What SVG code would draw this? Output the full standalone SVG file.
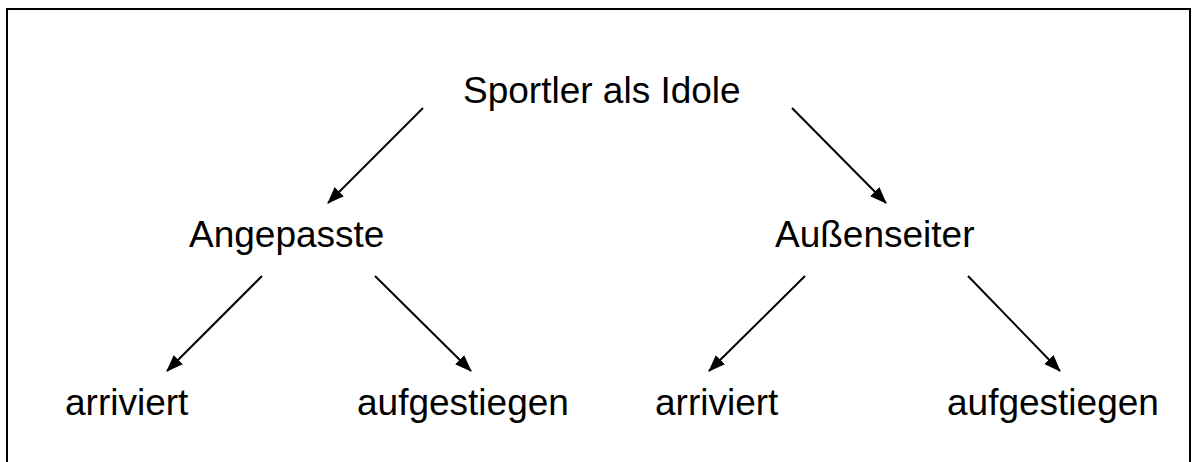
<svg xmlns="http://www.w3.org/2000/svg" width="1192" height="462" viewBox="0 0 1192 462">
<style>
.t{font-family:"Liberation Sans",Arial,sans-serif;font-size:37px;fill:#000}
.c line{stroke:#000;stroke-width:2;fill:none}
</style>
<defs>
<marker id="ah" markerUnits="userSpaceOnUse" markerWidth="18" markerHeight="14" refX="16" refY="6.5" orient="auto">
<path d="M0,0 L17,6.5 L0,13 z" fill="#000"/>
</marker>
</defs>
<rect x="7" y="9" width="1183" height="470" fill="#fff" stroke="#000" stroke-width="2"/>
<g id="n-root"><text class="t" x="463" y="103">Sportler als Idole</text></g>
<g id="n-angepasste"><text class="t" x="189" y="247">Angepasste</text></g>
<g id="n-aussenseiter"><text class="t" x="775" y="247">Außenseiter</text></g>
<g id="n-arriviert1"><text class="t" x="65" y="415">arriviert</text></g>
<g id="n-aufgestiegen1"><text class="t" x="357" y="415">aufgestiegen</text></g>
<g id="n-arriviert2"><text class="t" x="655" y="415">arriviert</text></g>
<g id="n-aufgestiegen2"><text class="t" x="947" y="415">aufgestiegen</text></g>
<g id="connectors" class="c">
<line x1="423" y1="108" x2="328" y2="203" marker-end="url(#ah)"/>
<line x1="792" y1="108" x2="886" y2="203" marker-end="url(#ah)"/>
<line x1="262" y1="276" x2="167" y2="371" marker-end="url(#ah)"/>
<line x1="375" y1="276" x2="471" y2="371" marker-end="url(#ah)"/>
<line x1="805" y1="276" x2="709" y2="371" marker-end="url(#ah)"/>
<line x1="968" y1="276" x2="1060" y2="371" marker-end="url(#ah)"/>
</g>
</svg>
